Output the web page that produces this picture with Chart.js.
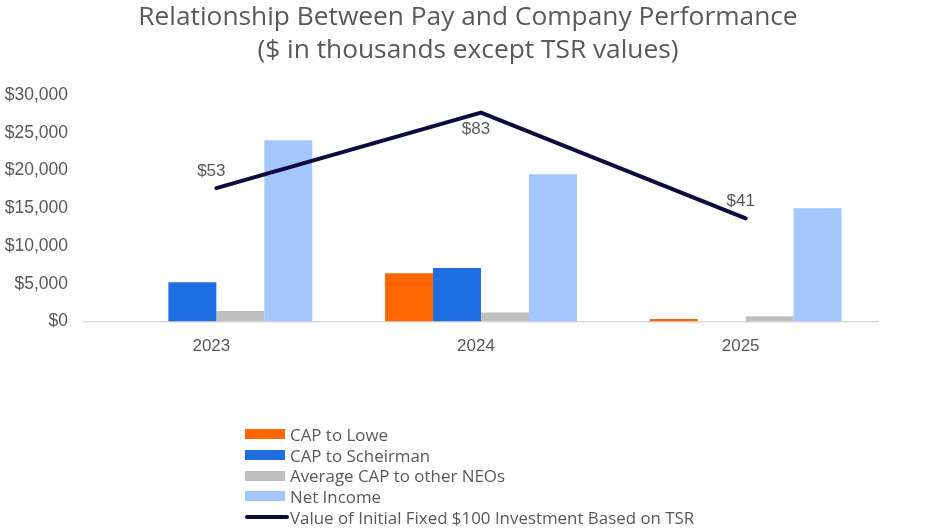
<!DOCTYPE html>
<html>
<head>
<meta charset="utf-8">
<script src="https://cdn.jsdelivr.net/npm/chart.js@4.4.1/dist/chart.umd.min.js"></script>
<style>
  html, body { margin: 0; padding: 0; background: #ffffff; }
  #wrap { position: relative; width: 936px; height: 531px; }
  #legend { position: absolute; left: 245px; top: 424px; font-family: "Open Sans", sans-serif; font-size: 16.9px; color: #595959; }
  .row { height: 20.7px; display: flex; align-items: center; }
  .sw { width: 40px; height: 10px; margin-right: 5px; }
  .ln { width: 44px; height: 4px; border-radius: 2px; margin-right: 1px; }
</style>
</head>
<body>
<div id="wrap">
  <canvas id="c" width="936" height="531"></canvas>
  <div id="legend"></div>
</div>
<script>
const years = ["2023", "2024", "2025"];
const capLowe = [null, 6400, 350];
const capScheirman = [5200, 7100, 0];
const avgCapNEOs = [1400, 1200, 700];
const netIncome = [24000, 19500, 15000];
const tsrValue = [53, 83, 41];
const yTicks = [0, 5000, 10000, 15000, 20000, 25000, 30000];
const titleLines = ["Relationship Between Pay and Company Performance", "($ in thousands except TSR values)"];
const seriesNames = ["CAP to Lowe", "CAP to Scheirman", "Average CAP to other NEOs", "Net Income", "Value of Initial Fixed $100 Investment Based on TSR"];

const FONT = '"Liberation Sans", Arial, sans-serif';
const TFONT = '"Open Sans", sans-serif';
const GREY_TEXT = '#595959';

const tsrLabels = {
  id: 'tsrLabels',
  afterDatasetsDraw(chart) {
    const ctx = chart.ctx;
    const meta = chart.getDatasetMeta(4);
    const pos = ['above', 'below', 'above'];
    ctx.save();
    ctx.font = '17px ' + FONT;
    ctx.fillStyle = GREY_TEXT;
    ctx.textAlign = 'center';
    ctx.textBaseline = 'middle';
    meta.data.forEach((pt, i) => {
      const dy = pos[i] === 'above' ? -17 : 17;
      ctx.fillText('$' + tsrValue[i], pt.x - 5, pt.y + dy);
    });
    ctx.restore();
  }
};

const chart = new Chart(document.getElementById('c'), {
  type: 'bar',
  data: {
    labels: years,
    datasets: [
      { label: seriesNames[0], data: capLowe, backgroundColor: '#ff6600', yAxisID: 'y', order: 2 },
      { label: seriesNames[1], data: capScheirman, backgroundColor: '#1f6fe3', yAxisID: 'y', order: 2 },
      { label: seriesNames[2], data: avgCapNEOs, backgroundColor: '#bfbfbf', yAxisID: 'y', order: 2 },
      { label: seriesNames[3], data: netIncome, backgroundColor: '#a3c6fd', yAxisID: 'y', order: 2 },
      { label: seriesNames[4], data: tsrValue, type: 'line', borderColor: '#0c0b3f', backgroundColor: '#0c0b3f',
        borderWidth: 4, pointRadius: 0, yAxisID: 'y2', order: 1, borderCapStyle: 'round', borderJoinStyle: 'miter' }
    ]
  },
  options: {
    responsive: false,
    animation: false,
    devicePixelRatio: 1,
    layout: { padding: { left: 0, right: 0, top: 0, bottom: 159 } },
    datasets: { bar: { categoryPercentage: 0.725, barPercentage: 1.0 } },
    plugins: {
      legend: { display: false },
      tooltip: { enabled: false },
      title: {
        display: true,
        text: titleLines,
        color: GREY_TEXT,
        font: { family: TFONT, size: 26.3, weight: 'normal', lineHeight: 1.255 },
        padding: { top: 1, bottom: 28 }
      }
    },
    scales: {
      x: {
        grid: { display: false, drawTicks: false },
        border: { display: true, color: '#d9d9d9', width: 1.5 },
        ticks: { color: GREY_TEXT, font: { family: FONT, size: 17 }, padding: 15, labelOffset: -5 }
      },
      y: {
        min: 0, max: 30000,
        afterFit(s) { s.width = 84; },
        afterBuildTicks(s) { s.ticks = yTicks.map(v => ({ value: v })); },
        grid: { display: false, drawTicks: false },
        border: { display: false },
        ticks: { color: GREY_TEXT, font: { family: FONT, size: 17.5 }, padding: 16,
          callback: v => '$' + v.toLocaleString('en-US') }
      },
      y2: {
        display: true, min: 0, max: 90, position: 'right',
        afterFit(s) { s.width = 58; },
        grid: { display: false, drawTicks: false },
        border: { display: false },
        ticks: { display: false }
      }
    }
  },
  plugins: [tsrLabels]
});

// legend built from chart datasets
const leg = document.getElementById('legend');
chart.data.datasets.forEach(ds => {
  const row = document.createElement('div');
  row.className = 'row';
  const sw = document.createElement('div');
  if (ds.type === 'line') { sw.className = 'ln'; sw.style.background = ds.borderColor; }
  else { sw.className = 'sw'; sw.style.background = ds.backgroundColor; }
  const t = document.createElement('span');
  t.textContent = ds.label;
  row.appendChild(sw); row.appendChild(t);
  leg.appendChild(row);
});
</script>
</body>
</html>
